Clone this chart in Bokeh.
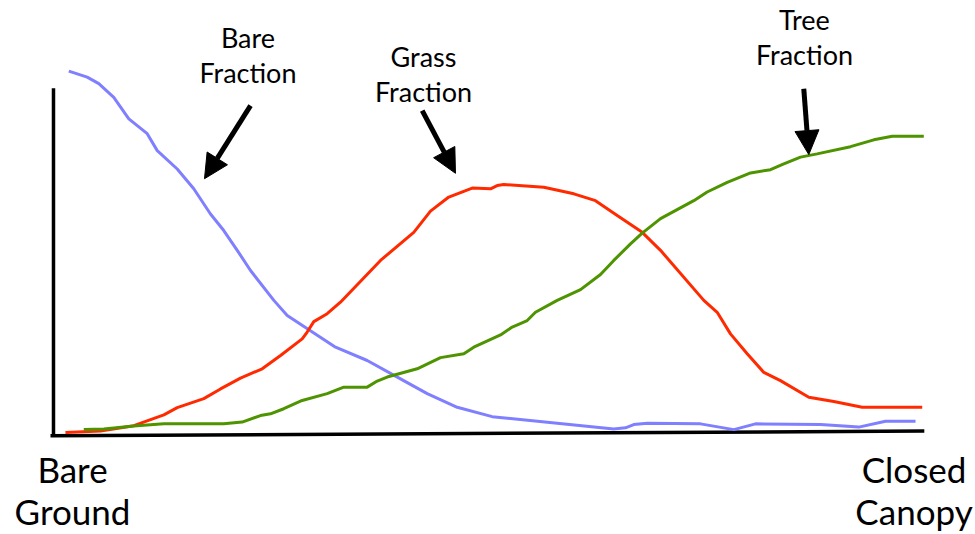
from bokeh.plotting import figure
from bokeh.models import Range1d, Arrow, NormalHead
from bokeh.core.properties import value
from bokeh.embed import file_html
from bokeh.resources import INLINE

# Position along the gradient (0 = bare ground, 100 = closed canopy) and fraction
bare_x = [2.08, 4.17, 5.49, 7.19, 8.90, 10.99, 12.13, 14.40, 16.28, 18.18, 19.69, 21.22, 22.73,
          25.38, 26.90, 32.39, 35.99, 39.77, 42.81, 46.22, 50.19, 64.01, 65.34, 66.28, 67.81,
          73.86, 77.65, 80.11, 87.50, 91.85, 94.89, 98.30]
bare_y = [1.004, 0.987, 0.969, 0.931, 0.871, 0.830, 0.783, 0.732, 0.677, 0.607, 0.561, 0.506, 0.450,
          0.367, 0.325, 0.237, 0.200, 0.149, 0.108, 0.070, 0.044, 0.010, 0.013, 0.022, 0.026,
          0.024, 0.008, 0.024, 0.022, 0.015, 0.031, 0.031]

grass_x = [1.70, 5.68, 9.47, 12.88, 14.40, 17.42, 19.32, 21.59, 24.06, 26.14, 28.60, 29.17, 29.92,
           31.44, 32.95, 37.50, 41.28, 43.18, 45.26, 47.92, 50.00, 50.76, 51.51, 56.06, 59.47,
           61.93, 64.40, 67.24, 69.32, 74.24, 75.76, 77.27, 79.17, 81.06, 82.95, 86.17, 89.01,
           92.24, 99.06]
grass_y = [0.000, 0.004, 0.019, 0.049, 0.069, 0.094, 0.121, 0.151, 0.177, 0.214, 0.260, 0.279, 0.308,
           0.330, 0.362, 0.478, 0.556, 0.615, 0.654, 0.679, 0.677, 0.686, 0.689, 0.681, 0.663,
           0.644, 0.603, 0.556, 0.506, 0.367, 0.334, 0.274, 0.219, 0.167, 0.144, 0.098, 0.086,
           0.070, 0.070]

tree_x = [3.78, 6.06, 9.47, 12.88, 19.69, 21.78, 23.86, 25.00, 26.51, 28.60, 31.44, 33.33, 35.99,
          37.13, 38.26, 41.67, 44.32, 46.97, 48.10, 51.14, 52.47, 54.17, 55.11, 57.58, 60.23,
          62.50, 64.01, 65.91, 67.24, 69.32, 73.10, 74.62, 76.90, 79.55, 81.82, 83.33, 85.23,
          87.12, 90.91, 93.56, 95.65, 99.24]
tree_y = [0.008, 0.010, 0.018, 0.024, 0.024, 0.029, 0.047, 0.052, 0.066, 0.089, 0.108, 0.126, 0.126,
          0.143, 0.154, 0.177, 0.208, 0.219, 0.237, 0.271, 0.293, 0.311, 0.334, 0.367, 0.397,
          0.439, 0.478, 0.524, 0.554, 0.594, 0.644, 0.668, 0.695, 0.721, 0.730, 0.746, 0.765,
          0.774, 0.794, 0.813, 0.823, 0.823]

series_names = ["Bare\nFraction", "Grass\nFraction", "Tree\nFraction"]
end_labels = ["Bare\nGround", "Closed\nCanopy"]

BLUE = "#7f7fff"
RED = "#ff2a00"
GREEN = "#4e9400"
FONT = "Lato"

W, H = 975, 534
p = figure(width=W, height=H, output_backend="svg", toolbar_location=None,
           x_range=Range1d(-50 / 8.8, (W - 50) / 8.8), y_range=Range1d((432 - H) / 360, 432 / 360),
           min_border=0, min_border_left=0, min_border_right=0, min_border_top=0, min_border_bottom=0,
           x_axis_location=None, y_axis_location=None, outline_line_color=None)
p.grid.visible = False

# hand-drawn axes
p.line([0.34, 0.34], [0.956, -0.011], line_color="black", line_width=3.5)
p.line([0.0, 99.3], [-0.009, 0.004], line_color="black", line_width=3.5)

p.line(bare_x, bare_y, line_color=BLUE, line_width=3)
p.line(grass_x, grass_y, line_color=RED, line_width=3)
p.line(tree_x, tree_y, line_color=GREEN, line_width=3)

# arrows
for (x0, y0, x1, y1) in [(22.73, 0.908, 17.5, 0.705), (42.24, 0.894, 46.02, 0.720), (85.60, 0.955, 86.17, 0.772)]:
    p.add_layout(Arrow(x_start=x0, y_start=y0, x_end=x1, y_end=y1, line_width=5, line_color="black",
                       end=NormalHead(size=24, fill_color="black", line_color="black", line_width=1)))


def label(txt, x, y, size, gap):
    for i, line in enumerate(txt.split("\n")):
        p.text([x], [y], text=[line], y_offset=i * gap, text_font=value(FONT),
               text_font_size=size, text_align="center", text_baseline="alphabetic",
               text_color="black")


ann_x = [22.44, 42.39, 85.68]
ann_y = [1.097, 1.044, 1.147]
for name, x, y in zip(series_names, ann_x, ann_y):
    label(name, x, y, "27px", 35)

end_x = [2.5, 98.13]
end_y = [-0.1, -0.1]
for name, x, y in zip(end_labels, end_x, end_y):
    label(name, x, y, "35px", 42)

open("out.html", "w").write(file_html(p, INLINE))
